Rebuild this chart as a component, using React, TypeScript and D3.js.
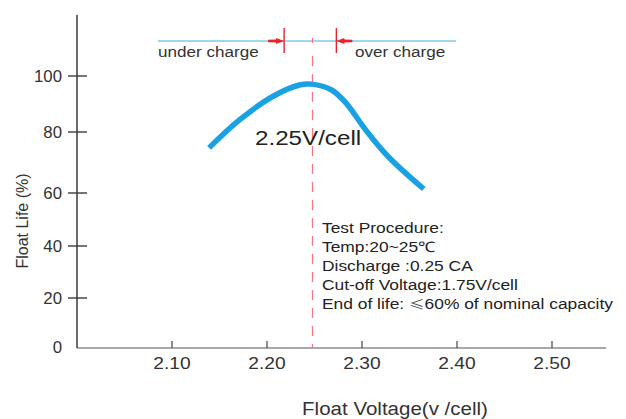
import { useEffect, useRef } from 'react'
import * as d3 from 'd3'

// float voltage (V/cell) vs float life (%)
const voltages = [2.139, 2.171, 2.205, 2.234, 2.247, 2.268, 2.283, 2.304, 2.328, 2.365]
const lifeValues = [74.8, 84.3, 92.5, 96.8, 97.1, 95, 90.4, 80.7, 71.8, 61.3]
const xTicks = [2.1, 2.2, 2.3, 2.4, 2.5]
const yTicks = [0, 20, 40, 60, 80, 100]
const procedureLines = [
  'Test Procedure:',
  'Temp:20~25\u2103',
  'Discharge :0.25 CA',
  'Cut-off Voltage:1.75V/cell',
  'End of life: \u226460% of nominal capacity',
]
const nominalVoltage = 2.25
const underLimit = 2.218
const overLimit = 2.273

const FONT = '"Liberation Sans", Arial, sans-serif'
const CJK = '"Noto Sans CJK SC", sans-serif'

export default function App() {
  const ref = useRef<SVGSVGElement>(null)

  useEffect(() => {
    if (!ref.current) return
    const svg = d3.select(ref.current)
    svg.selectAll('*').remove()

    const x = d3.scaleLinear().domain([2.0, 2.55]).range([77, 599.5])
    // the printed axis is not evenly spaced, so follow its tick positions
    const y = d3.scaleLinear().domain(yTicks).range([346, 298, 246, 193, 132, 76])
    const x0 = x(2.0)
    const yBase = 348

    // text in the source picture is stretched sideways
    const label = (tx: number, ty: number, txt: string, size: number, sx: number, anchor = 'start', fill = '#333') =>
      svg.append('text')
        .attr('transform', `translate(${tx},${ty}) scale(${sx},1)`)
        .attr('text-anchor', anchor)
        .style('font-family', FONT)
        .style('font-size', `${size}px`)
        .attr('fill', fill)
        .text(txt)

    // Axes
    svg.append('line')
      .attr('x1', x0).attr('x2', x0)
      .attr('y1', 15).attr('y2', yBase)
      .attr('stroke', '#3a3a3a').attr('stroke-width', 1.5)
    svg.append('line')
      .attr('x1', x0).attr('x2', x(2.557))
      .attr('y1', yBase).attr('y2', yBase)
      .attr('stroke', '#555').attr('stroke-width', 1.2)

    yTicks.filter(d => d > 0).forEach(d => {
      svg.append('line')
        .attr('x1', x0 - 9).attr('x2', x0 + 10)
        .attr('y1', y(d)).attr('y2', y(d))
        .attr('stroke', '#3a3a3a').attr('stroke-width', 1.4)
    })
    yTicks.forEach(d => {
      label(62, (d === 0 ? 347 : y(d)) + 6, String(d), 16, 1.05, 'end')
    })

    xTicks.forEach(d => {
      svg.append('line')
        .attr('x1', x(d)).attr('x2', x(d))
        .attr('y1', yBase - 7).attr('y2', yBase)
        .attr('stroke', '#444').attr('stroke-width', 1.2)
      label(x(d), 369, d.toFixed(2), 16, 1.2, 'middle')
    })

    // Titles
    svg.append('text')
      .attr('transform', 'translate(28,221) rotate(-90)')
      .attr('text-anchor', 'middle')
      .style('font-family', FONT)
      .style('font-size', '16px')
      .attr('fill', '#333')
      .text('Float Life (%)')
    label(395, 415, 'Float Voltage(v /cell)', 19, 1.08, 'middle')

    // Under / over charge band
    const topY = 41
    svg.append('line')
      .attr('x1', 158).attr('x2', 456)
      .attr('y1', topY).attr('y2', topY)
      .attr('stroke', '#7fcbe6').attr('stroke-width', 1.5)
    const red = '#e8232b'
    ;[underLimit, overLimit].forEach(v => {
      svg.append('line')
        .attr('x1', x(v)).attr('x2', x(v))
        .attr('y1', 28).attr('y2', 53)
        .attr('stroke', red).attr('stroke-width', 1.4)
    })
    const ux = x(underLimit)
    const ox = x(overLimit)
    svg.append('path')
      .attr('d', `M${ux - 16},${topY - 1.2}L${ux - 8},${topY - 1.5}L${ux - 8},${topY - 3}L${ux},${topY}L${ux - 8},${topY + 3}L${ux - 8},${topY + 1.5}L${ux - 16},${topY + 1.2}Z`)
      .attr('fill', red)
    svg.append('path')
      .attr('d', `M${ox + 16},${topY - 1.2}L${ox + 8},${topY - 1.5}L${ox + 8},${topY - 3}L${ox},${topY}L${ox + 8},${topY + 3}L${ox + 8},${topY + 1.5}L${ox + 16},${topY + 1.2}Z`)
      .attr('fill', red)
    label(158, 57, 'under charge', 15, 1.14)
    label(355, 57, 'over charge', 15, 1.14)

    // Nominal voltage marker
    const nx = x(nominalVoltage) - 2
    svg.append('line')
      .attr('x1', nx).attr('x2', nx)
      .attr('y1', 38).attr('y2', 43)
      .attr('stroke', '#f07a80').attr('stroke-width', 1.2)
    svg.append('line')
      .attr('x1', nx).attr('x2', nx)
      .attr('y1', 56).attr('y2', yBase)
      .attr('stroke', '#f07a80').attr('stroke-width', 1.3)
      .attr('stroke-dasharray', '10,8')

    // Curve
    const pts = voltages.map((v, i) => [v, lifeValues[i]] as [number, number])
    const line = d3.line<[number, number]>()
      .x(d => x(d[0]))
      .y(d => y(d[1]))
      .curve(d3.curveCatmullRom.alpha(0.5))
    svg.append('path')
      .datum(pts)
      .attr('d', line)
      .attr('fill', 'none')
      .attr('stroke', '#19a2e3')
      .attr('stroke-width', 5.5)
      .attr('stroke-linecap', 'butt')

    label(255, 145, '2.25V/cell', 19.5, 1.24, 'start', '#222')

    // Test procedure notes
    procedureLines.forEach((d, i) => {
      const t = svg.append('text')
        .attr('transform', `translate(322,${233 + i * 19}) scale(1.2,1)`)
        .style('font-family', FONT)
        .style('font-size', '14.5px')
        .attr('fill', '#222')
      const k = d.indexOf('\u2264')
      if (k >= 0) {
        t.append('tspan').text(d.slice(0, k))
        t.append('tspan').style('font-family', CJK).style('font-size', '13px').attr('fill', '#555').text('\u2264')
        t.append('tspan').text(d.slice(k + 1))
      } else {
        t.text(d)
      }
    })
  }, [])

  return (
    <svg
      ref={ref}
      width={626}
      height={419}
      style={{ position: 'absolute', left: 0, top: 0, background: '#fff' }}
    />
  )
}
